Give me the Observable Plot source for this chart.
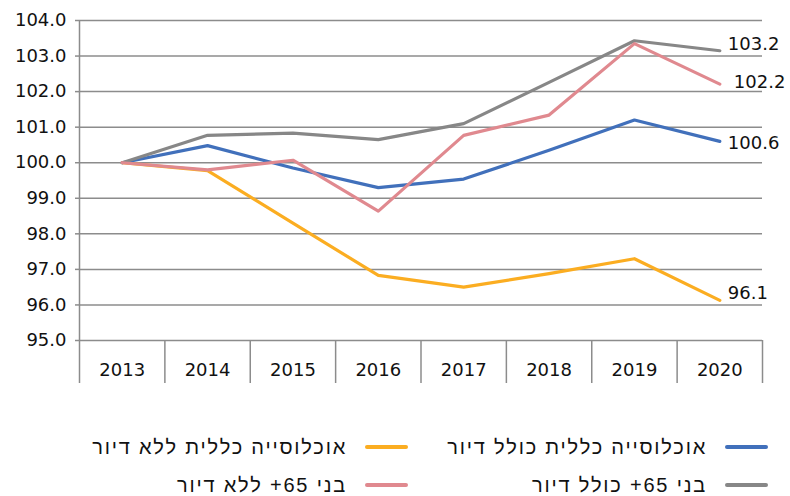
<!DOCTYPE html>
<html>
<head>
<meta charset="utf-8">
<script src="https://cdn.jsdelivr.net/npm/d3@7"></script>
<script src="https://cdn.jsdelivr.net/npm/@observablehq/plot@0.6"></script>
<style>
  html, body { margin: 0; padding: 0; background: #fff; overflow: hidden; }
  #chart { width: 790px; height: 420px; }
  .legend { width: 790px; direction: rtl; font-family: "Liberation Sans", "DejaVu Sans", sans-serif; font-size: 20px; line-height: 1; letter-spacing: 1.8px; color: #111; padding-top: 8px; }
  .legend .row { display: flex; height: 38px; align-items: center; padding-right: 22px; }
  .legend .item { display: flex; align-items: center; width: 360px; }
  .legend .sw { width: 43px; height: 4px; border-radius: 2px; margin-left: 18px; flex: none; }
</style>
</head>
<body>
<div id="chart"></div>
<div class="legend" id="legend"></div>
<script>
const years = [2013, 2014, 2015, 2016, 2017, 2018, 2019, 2020];
const seriesNames = [
  "אוכלוסייה כללית כולל דיור",
  "אוכלוסייה כללית ללא דיור",
  "בני 65+ כולל דיור",
  "בני 65+ ללא דיור"
];
const totalWithHousing = [100.0, 100.48, 99.85, 99.3, 99.54, 100.35, 101.2, 100.6];
const totalWithoutHousing = [100.0, 99.78, 98.3, 96.83, 96.5, 96.88, 97.3, 96.13];
const seniorsWithHousing = [100.0, 100.77, 100.83, 100.65, 101.1, 102.26, 103.43, 103.15];
const seniorsWithoutHousing = [100.0, 99.8, 100.07, 98.64, 100.77, 101.34, 103.35, 102.21];
const endLabels = ["100.6", "96.1", "103.2", "102.2"];
const colors = ["#4170bb", "#fbad21", "#878787", "#e0898f"];
const yTicks = [95, 96, 97, 98, 99, 100, 101, 102, 103, 104];

const seriesValues = [totalWithHousing, totalWithoutHousing, seniorsWithHousing, seniorsWithoutHousing];
const rows = [];
seriesValues.forEach((vals, i) => vals.forEach((v, j) => rows.push({series: seriesNames[i], year: years[j], value: v})));
// draw order: orange, blue, gray, pink
const drawOrder = [1, 0, 2, 3];
const labelOffsets = [{dx: 8, dy: 2}, {dx: 8, dy: -7}, {dx: 8, dy: -6}, {dx: 14, dy: -2}];
const lastRows = seriesValues.map((vals, i) => ({series: seriesNames[i], year: years[years.length - 1], value: vals[vals.length - 1], label: endLabels[i], i}));
const boundaries = years.map(y => y - 0.5).concat([years[years.length - 1] + 0.5]);

const gridColor = "#8c8c8c";

const plot = Plot.plot({
  width: 790,
  height: 420,
  marginLeft: 79,
  marginRight: 28,
  marginTop: 20,
  marginBottom: 80,
  style: {fontFamily: "DejaVu Sans, sans-serif", fontSize: "18px", color: "#111", background: "#fff"},
  x: {domain: [years[0] - 0.5, years[years.length - 1] + 0.5], label: null},
  y: {domain: [yTicks[0], yTicks[yTicks.length - 1]], label: null},
  color: {domain: seriesNames, range: colors},
  marks: [
    Plot.ruleY(yTicks, {stroke: gridColor, strokeWidth: 1.5}),
    Plot.ruleX([boundaries[0]], {stroke: gridColor, strokeWidth: 1.5}),
    Plot.axisY(yTicks, {label: null, tickSize: 4, tickPadding: 9, tickFormat: d => d.toFixed(1), stroke: gridColor, strokeWidth: 1.5, fill: "#111"}),
    Plot.axisX(boundaries, {label: null, tickSize: 43, tickFormat: () => "", stroke: gridColor, strokeWidth: 1.5}),
    Plot.axisX(years, {label: null, tickSize: 0, tickPadding: 23, tickFormat: d => String(d), fill: "#111"}),
    ...drawOrder.map(i => Plot.line(rows.filter(r => r.series === seriesNames[i]), {
      x: "year", y: "value", stroke: "series", strokeWidth: 3.2, strokeLinejoin: "round", strokeLinecap: "round"
    })),
    ...lastRows.map(r => Plot.text([r], {
      x: "year", y: "value", text: "label", textAnchor: "start",
      dx: labelOffsets[r.i].dx, dy: labelOffsets[r.i].dy, fill: "#111", fontSize: 18
    }))
  ]
});
document.getElementById("chart").appendChild(plot);

const legend = document.getElementById("legend");
const legendRows = [[0, 1], [2, 3]];
legendRows.forEach(pair => {
  const row = document.createElement("div");
  row.className = "row";
  pair.forEach(i => {
    const item = document.createElement("div");
    item.className = "item";
    const sw = document.createElement("span");
    sw.className = "sw";
    sw.style.background = colors[i];
    const tx = document.createElement("span");
    tx.textContent = seriesNames[i];
    item.appendChild(sw);
    item.appendChild(tx);
    row.appendChild(item);
  });
  legend.appendChild(row);
});
</script>
</body>
</html>
